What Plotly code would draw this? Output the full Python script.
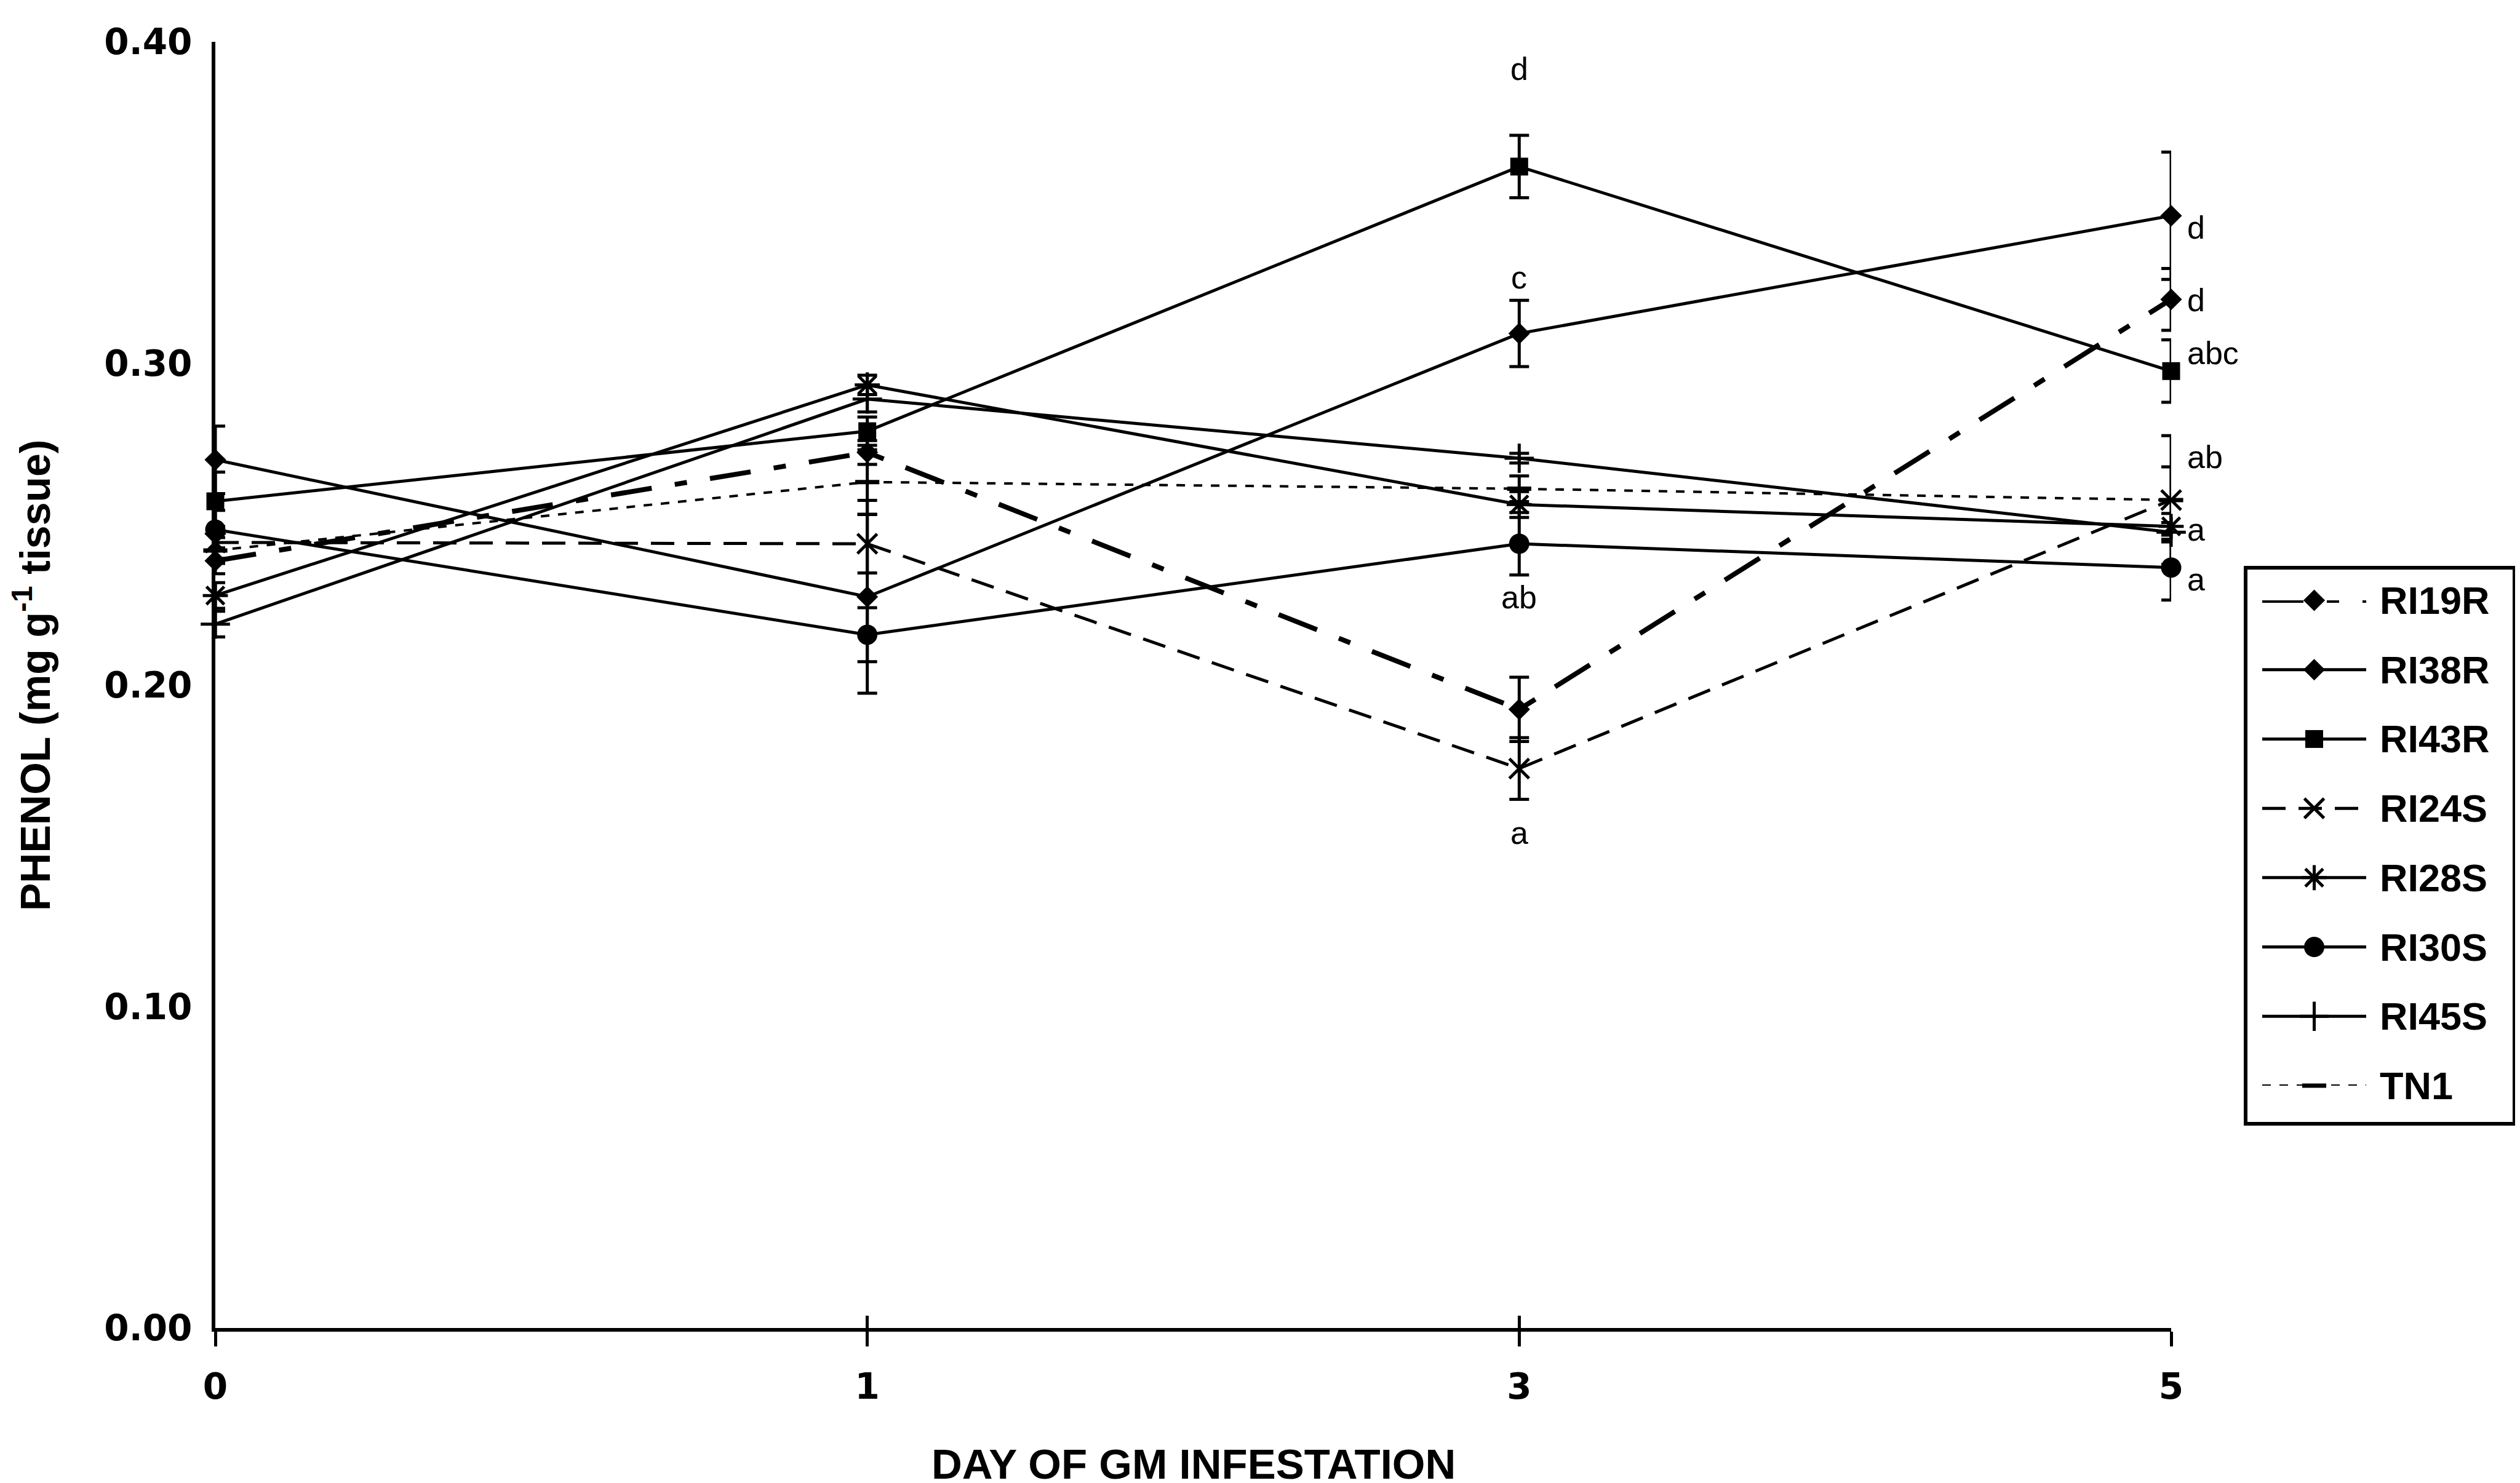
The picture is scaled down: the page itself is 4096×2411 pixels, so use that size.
import plotly.graph_objects as go

# ---------------- data ----------------
days = ["0", "1", "3", "5"]

series_names = ["RI19R", "RI38R", "RI43R", "RI24S", "RI28S", "RI30S", "RI45S", "TN1"]

RI19R = [0.2386, 0.2723, 0.1924, 0.3199]
RI38R = [0.2700, 0.2274, 0.3093, 0.3459]
RI43R = [0.2571, 0.2789, 0.3612, 0.2976]
RI24S = [0.2443, 0.2439, 0.1740, 0.2575]
RI28S = [0.2278, 0.2933, 0.2561, 0.2493]
RI30S = [0.2483, 0.2156, 0.2439, 0.2365]
RI45S = [0.2189, 0.2889, 0.2705, 0.2475]
TN1 = [0.2418, 0.2631, 0.2610, 0.2575]

RI19R_err = [0.0040, 0.0037, 0.0100, 0.0096]
RI38R_err = [0.0105, 0.0300, 0.0103, 0.0198]
RI43R_err = [0.0091, 0.0044, 0.0097, 0.0097]
RI24S_err = [0.0050, 0.0091, 0.0096, 0.0103]
RI28S_err = [0.0040, 0.0030, 0.0040, 0.0040]
RI30S_err = [0.0060, 0.0084, 0.0097, 0.0101]
RI45S_err = [0.0040, 0.0040, 0.0015, 0.0030]
TN1_err = [0.0040, 0.0100, 0.0040, 0.0200]

values = [RI19R, RI38R, RI43R, RI24S, RI28S, RI30S, RI45S, TN1]
errors = [RI19R_err, RI38R_err, RI43R_err, RI24S_err, RI28S_err, RI30S_err, RI45S_err, TN1_err]

letters_day3 = ["d", "c", "ab", "a"]
letters_day3_y = [0.3915, 0.3268, 0.2273, 0.1539]
letters_day5 = ["d", "d", "abc", "ab", "a", "a"]
letters_day5_y = [0.3423, 0.3197, 0.3032, 0.2709, 0.2483, 0.2329]

y_ticks = [0.0, 0.1, 0.2, 0.3, 0.4]
x_title = "DAY OF GM INFESTATION"
y_title = "PHENOL (mg g<sup>-1</sup> tissue)"

# ---------------- styles ----------------
BLACK = "black"
styles = {
    "RI19R": dict(dash="67px,38px,20px,38px", width=8, symbol="diamond", size=27, mlw=0),
    "RI38R": dict(dash="solid", width=5, symbol="diamond", size=27, mlw=0),
    "RI43R": dict(dash="solid", width=5, symbol="square", size=29, mlw=0),
    "RI24S": dict(dash="38px,21px", width=5, symbol="x-thin-open", size=32, mlw=5),
    "RI28S": dict(dash="solid", width=5, symbol="asterisk-open", size=34, mlw=5),
    "RI30S": dict(dash="solid", width=5, symbol="circle", size=33, mlw=0),
    "RI45S": dict(dash="solid", width=5, symbol="cross-thin-open", size=34, mlw=5),
    "TN1": dict(dash="14px,14px", width=4, symbol="line-ew-open", size=28, mlw=7),
}

W, H = 4096, 2411
x_dom = [342 / W, 3521 / W]
y_dom = [(H - 2151) / H, (H - 60) / H]

xi = list(range(len(days)))

fig = go.Figure()

for name, vals, errs in zip(series_names, values, errors):
    s = styles[name]
    fig.add_trace(go.Scatter(
        x=xi, y=vals, mode="lines+markers", name=name, showlegend=False,
        xaxis="x", yaxis="y", cliponaxis=False,
        line=dict(color=BLACK, width=s["width"], dash=s["dash"]),
        marker=dict(symbol=s["symbol"], size=s["size"], color=BLACK,
                    line=dict(color=BLACK, width=s["mlw"])),
        error_y=dict(type="data", array=errs, visible=True, color=BLACK,
                     thickness=5, width=16),
    ))

# invisible trace carrying the overlay axis for crossing ticks
fig.add_trace(go.Scatter(x=xi, y=RI19R, xaxis="x3", yaxis="y", mode="markers",
                         marker=dict(opacity=0), showlegend=False, hoverinfo="skip"))

# ---------------- hand-built legend (own small axes) ----------------
n = len(series_names)
for i, name in enumerate(series_names):
    s = styles[name]
    fig.add_trace(go.Scatter(
        x=[0, 1], y=[i, i], mode="lines", xaxis="x2", yaxis="y2", showlegend=False,
        cliponaxis=False, hoverinfo="skip",
        line=dict(color=BLACK, width=s["width"], dash=s["dash"]),
    ))
    fig.add_trace(go.Scatter(
        x=[0.5], y=[i], mode="markers", xaxis="x2", yaxis="y2", showlegend=False,
        cliponaxis=False, hoverinfo="skip",
        marker=dict(symbol=s["symbol"], size=s["size"], color=BLACK,
                    line=dict(color=BLACK, width=s["mlw"])),
    ))

annotations = []
for i, name in enumerate(series_names):
    annotations.append(dict(
        x=3858 / W, xref="paper", y=i, yref="y2", text=name, showarrow=False,
        xanchor="left", yanchor="middle",
        font=dict(family="Liberation Sans", size=63, color=BLACK, weight="bold"),
    ))

for t, yv in zip(letters_day3, letters_day3_y):
    annotations.append(dict(
        x=days.index("3"), xref="x", y=yv, yref="y", text=t, showarrow=False,
        xanchor="center", yanchor="middle",
        font=dict(family="Liberation Sans", size=52, color=BLACK),
    ))
for t, yv in zip(letters_day5, letters_day5_y):
    annotations.append(dict(
        x=days.index("5"), xref="x", y=yv, yref="y", text=t, showarrow=False,
        xanchor="left", yanchor="middle", xshift=24,
        font=dict(family="Liberation Sans", size=52, color=BLACK),
    ))

annotations.append(dict(
    x=(x_dom[0] + x_dom[1]) / 2, xref="paper", y=(H - 2372) / H, yref="paper",
    text=x_title, showarrow=False, xanchor="center", yanchor="middle",
    font=dict(family="Liberation Sans", size=69, color=BLACK, weight="bold"),
))
annotations.append(dict(
    x=44 / W, xref="paper", y=(H - 1090) / H, yref="paper",
    text=y_title, showarrow=False, textangle=-90, xanchor="center", yanchor="middle",
    font=dict(family="Liberation Sans", size=68, color=BLACK, weight="bold"),
))

shapes = [dict(
    type="rect", xref="paper", yref="paper",
    x0=3642 / W, x1=4079 / W, y0=(H - 1819) / H, y1=(H - 915) / H,
    line=dict(color=BLACK, width=6), fillcolor="rgba(0,0,0,0)",
)]

tick_font = dict(family="DejaVu Sans", size=58, color=BLACK, weight="bold")

fig.update_layout(
    width=W, height=H,
    margin=dict(l=0, r=0, t=0, b=0, autoexpand=False),
    paper_bgcolor="white", plot_bgcolor="white",
    showlegend=False,
    xaxis=dict(
        domain=x_dom, range=[0, len(days) - 1], tickmode="array", tickvals=xi, ticktext=days,
        showgrid=False, zeroline=False, showline=True, linecolor=BLACK, linewidth=6,
        ticks="outside", ticklen=24, tickwidth=5, tickcolor=BLACK,
        tickfont=dict(family="DejaVu Sans", size=58, color=BLACK, weight="bold"),
        ticklabelstandoff=15, anchor="y", automargin=False,
    ),
    xaxis3=dict(
        overlaying="x", range=[0, len(days) - 1], tickmode="array", tickvals=xi,
        showticklabels=False, showgrid=False, zeroline=False, showline=False,
        ticks="inside", ticklen=20, tickwidth=5, tickcolor=BLACK, anchor="y",
        automargin=False,
    ),
    yaxis=dict(
        domain=y_dom, range=[0, 0.40], tickmode="array", tickvals=y_ticks,
        tickformat=".2f", showgrid=False, zeroline=False, showline=True,
        linecolor=BLACK, linewidth=6, ticks="", tickfont=tick_font,
        ticklabelstandoff=20, anchor="x", automargin=False,
    ),
    xaxis2=dict(domain=[3669 / W, 3838 / W], range=[0, 1], visible=False, anchor="y2",
                automargin=False),
    yaxis2=dict(domain=[(H - 1757) / H, (H - 968) / H], range=[n - 1, 0], visible=False,
                anchor="x2", automargin=False),
    annotations=annotations,
    shapes=shapes,
)

fig.write_html("out.html")
